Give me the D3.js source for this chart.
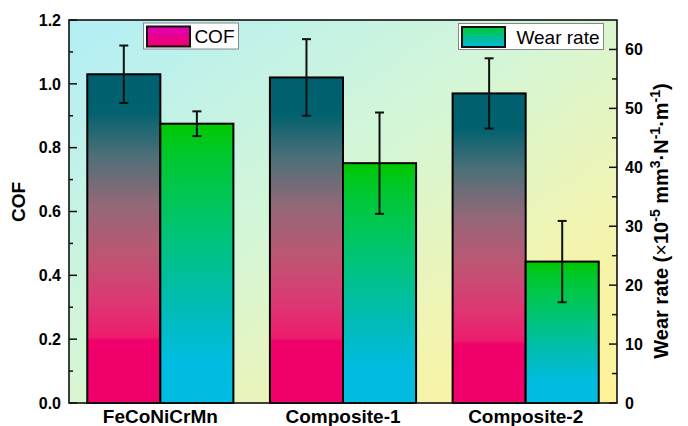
<!DOCTYPE html>
<html>
<head>
<meta charset="utf-8">
<script src="https://cdn.jsdelivr.net/npm/d3@7"></script>
<style>
	body { margin: 0; background: #fff; }
	svg text { font-family: "Liberation Sans", Arial, sans-serif; }
</style>
</head>
<body>
<div id="chart"></div>
<script>
// data
var categories = ["FeCoNiCrMn", "Composite-1", "Composite-2"];
var cofValues = [1.03, 1.02, 0.97];
var cofErrors = [0.09, 0.12, 0.11];
var wearValues = [47.4, 40.7, 24.0];
var wearErrors = [2.1, 8.6, 6.9];
var cofTicks = [0, 0.2, 0.4, 0.6, 0.8, 1.0, 1.2];
var wearTicks = [0, 10, 20, 30, 40, 50, 60];

var width = 688, height = 426;
var margin = {top: 20, right: 71, bottom: 23, left: 69};
var plotW = width - margin.left - margin.right;
var plotH = height - margin.top - margin.bottom;

var svg = d3.select("#chart").append("svg")
	.attr("width", width)
	.attr("height", height);

var defs = svg.append("defs");

function gradient(id, stops, x2, y2){
	var g = defs.append("linearGradient")
		.attr("id", id)
		.attr("x1", 0).attr("y1", 0)
		.attr("x2", x2).attr("y2", y2);
	stops.forEach(function(s){
		g.append("stop").attr("offset", s[0]).attr("stop-color", s[1]);
	});
}

gradient("bg", [[0, "#b2eef6"], [0.45, "#d4f6d6"], [0.75, "#f3f4b0"], [1, "#fff296"]], 1, 1);
gradient("cofFill", [[0, "#00606f"], [0.11, "#00616f"], [0.25, "#4e7078"], [0.4, "#946878"],
	[0.55, "#bd5673"], [0.7, "#de3672"], [0.8, "#ec1c6e"], [0.81, "#f0006a"], [1, "#f0006a"]], 0, 1);
gradient("wearFill", [[0, "#00c800"], [0.12, "#00c830"], [0.4, "#00c478"], [0.65, "#00bcb4"],
	[0.85, "#00bce0"], [1, "#00bce0"]], 0, 1);
gradient("cofLegend", [[0, "#e000b8"], [1, "#f0006a"]], 0, 1);
gradient("wearLegend", [[0, "#00c832"], [1, "#00b8e0"]], 0, 1);

var g = svg.append("g")
	.attr("transform", "translate(" + margin.left + "," + margin.top + ")");

// scales
var x0 = d3.scaleBand().domain(categories).range([0, plotW]);
var x1 = d3.scaleBand().domain(["cof", "wear"]).range([0, x0.bandwidth()]).paddingOuter(0.25);
var yL = d3.scaleLinear().domain([0, 1.2]).range([plotH, 0]);
var yR = d3.scaleLinear().domain([0, 65]).range([plotH, 0]);

g.append("rect")
	.attr("width", plotW)
	.attr("height", plotH)
	.attr("fill", "url(#bg)");

var rows = categories.map(function(c, i){
	return [
		{cat: c, key: "cof", v: cofValues[i], e: cofErrors[i], y: yL, fill: "url(#cofFill)"},
		{cat: c, key: "wear", v: wearValues[i], e: wearErrors[i], y: yR, fill: "url(#wearFill)"}
	];
});
var flat = [].concat.apply([], rows);

g.selectAll("rect.bar")
	.data(flat)
	.enter().append("rect")
	.attr("class", "bar")
	.attr("x", function(d){ return x0(d.cat) + x1(d.key); })
	.attr("y", function(d){ return d.y(d.v); })
	.attr("width", x1.bandwidth())
	.attr("height", function(d){ return plotH - d.y(d.v); })
	.attr("fill", function(d){ return d.fill; })
	.attr("stroke", "#000")
	.attr("stroke-width", 2);

// error bars
var err = g.selectAll("g.err")
	.data(flat)
	.enter().append("g")
	.attr("class", "err")
	.attr("stroke", "#111")
	.attr("stroke-width", 2);
function cx(d){ return x0(d.cat) + x1(d.key) + x1.bandwidth() / 2; }
err.append("line")
	.attr("x1", cx).attr("x2", cx)
	.attr("y1", function(d){ return d.y(d.v + d.e); })
	.attr("y2", function(d){ return d.y(d.v - d.e); });
[1, -1].forEach(function(s){
	err.append("line")
		.attr("x1", function(d){ return cx(d) - 4.5; })
		.attr("x2", function(d){ return cx(d) + 4.5; })
		.attr("y1", function(d){ return d.y(d.v + s * d.e); })
		.attr("y2", function(d){ return d.y(d.v + s * d.e); });
});

// frame
g.append("rect")
	.attr("width", plotW)
	.attr("height", plotH)
	.attr("fill", "none")
	.attr("stroke", "#111")
	.attr("stroke-width", 1.6);

// left axis, inward ticks
var left = g.append("g");
left.selectAll("line.minor")
	.data(d3.range(0.1, 1.2, 0.2))
	.enter().append("line")
	.attr("x1", 0).attr("x2", 4)
	.attr("y1", yL).attr("y2", yL)
	.attr("stroke", "#111").attr("stroke-width", 1.5);
left.selectAll("line.major")
	.data(cofTicks)
	.enter().append("line")
	.attr("x1", 0).attr("x2", 8)
	.attr("y1", yL).attr("y2", yL)
	.attr("stroke", "#111").attr("stroke-width", 1.5);
left.selectAll("text")
	.data(cofTicks)
	.enter().append("text")
	.attr("x", -8)
	.attr("y", function(d){ return yL(d); })
	.attr("dy", "0.36em")
	.attr("text-anchor", "end")
	.attr("font-size", 16)
	.attr("font-weight", "bold")
	.text(d3.format(".1f"));

// right axis, inward ticks
var right = g.append("g").attr("transform", "translate(" + plotW + ",0)");
right.selectAll("line.minor")
	.data(d3.range(5, 65, 10))
	.enter().append("line")
	.attr("x1", 0).attr("x2", -5)
	.attr("y1", yR).attr("y2", yR)
	.attr("stroke", "#111").attr("stroke-width", 1.5);
right.selectAll("line.major")
	.data(wearTicks)
	.enter().append("line")
	.attr("x1", 0).attr("x2", -8)
	.attr("y1", yR).attr("y2", yR)
	.attr("stroke", "#111").attr("stroke-width", 1.5);
right.selectAll("text")
	.data(wearTicks)
	.enter().append("text")
	.attr("x", 8)
	.attr("y", function(d){ return yR(d); })
	.attr("dy", "0.36em")
	.attr("font-size", 16)
	.attr("font-weight", "bold")
	.text(function(d){ return d; });

// x labels
g.selectAll("text.xlab")
	.data(categories)
	.enter().append("text")
	.attr("class", "xlab")
	.attr("x", function(d){ return x0(d) + x0.bandwidth() / 2; })
	.attr("y", plotH + 20)
	.attr("text-anchor", "middle")
	.attr("font-size", 19)
	.attr("font-weight", "bold")
	.text(function(d){ return d; });

// axis titles
svg.append("text")
	.attr("transform", "translate(25,202) rotate(-90)")
	.attr("text-anchor", "middle")
	.attr("font-size", 19)
	.attr("font-weight", "bold")
	.text("COF");

var rt = svg.append("text")
	.attr("transform", "translate(668,221) rotate(-90)")
	.attr("text-anchor", "middle")
	.attr("font-size", 20)
	.attr("font-weight", "bold");
var parts = [["Wear rate (", 0], ["\u00d7", 0, "normal"], ["10", 0], ["-5", 1], [" mm", 0], ["3", 1],
	["\u00b7N", 0], ["-1", 1], ["\u00b7m", 0], ["-1", 1], [")", 0]];
var prevSup = 0;
parts.forEach(function(p){
	var t = rt.append("tspan").text(p[0]);
	if(p[2]) t.attr("font-weight", p[2]);
	if(p[1] !== prevSup){ t.attr("dy", p[1] ? -8 : 8); }
	if(p[1]) t.attr("font-size", 14);
	prevSup = p[1];
});

// legends
function legend(xb, yb, w, fill, label){
	var lg = svg.append("g").attr("transform", "translate(" + xb + "," + yb + ")");
	lg.append("rect")
		.attr("width", w).attr("height", 26)
		.attr("fill", "#fff")
		.attr("stroke", "#888").attr("stroke-width", 1);
	lg.append("rect")
		.attr("x", 3.5).attr("y", 3.5)
		.attr("width", 43).attr("height", 20)
		.attr("fill", fill)
		.attr("stroke", "#111").attr("stroke-width", 2);
	lg.append("text")
		.attr("x", w - 4).attr("y", 20)
		.attr("text-anchor", "end")
		.attr("font-size", 19)
		.text(label);
}
legend(143.5, 23, 95, "url(#cofLegend)", "COF");
legend(458.5, 23.5, 145, "url(#wearLegend)", "Wear rate");
</script>
</body>
</html>
